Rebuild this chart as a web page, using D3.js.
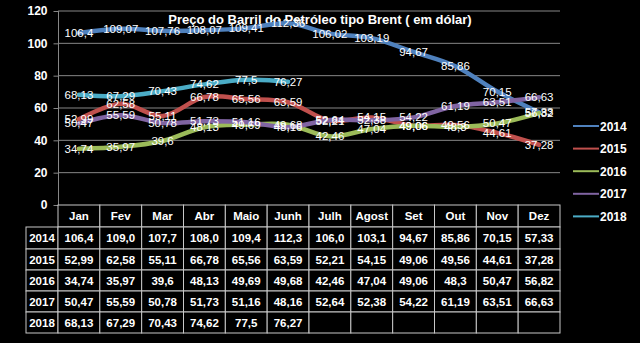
<!DOCTYPE html>
<html><head><meta charset="utf-8">
<script src="https://cdn.jsdelivr.net/npm/d3@7"></script>
<style>html,body{margin:0;padding:0;background:#000;}svg{display:block;}</style>
</head><body>
<script>
const months = ["Jan","Fev","Mar","Abr","Maio","Junh","Julh","Agost","Set","Out","Nov","Dez"];
const years = ["2014","2015","2016","2017","2018"];
const v2014 = [106.4,109.07,107.76,108.07,109.41,112.36,106.02,103.19,94.67,85.86,70.15,57.33];
const v2015 = [52.99,62.58,55.11,66.78,65.56,63.59,52.21,54.15,49.06,49.56,44.61,37.28];
const v2016 = [34.74,35.97,39.6,48.13,49.69,49.68,42.46,47.04,49.06,48.3,50.47,56.82];
const v2017 = [50.47,55.59,50.78,51.73,51.16,48.16,52.64,52.38,54.22,61.19,63.51,66.63];
const v2018 = [68.13,67.29,70.43,74.62,77.5,76.27];
const tableText2014 = ["106,4","109,0","107,7","108,0","109,4","112,3","106,0","103,1","94,67","85,86","70,15","57,33"];
const yTicks = [0,20,40,60,80,100,120];
const title = "Preço do Barril do Petróleo tipo Brent ( em dólar)";
const colors = ["#4F81BD","#C0504D","#9BBB59","#8064A2","#4BACC6"];

const series = [v2014,v2015,v2016,v2017,v2018];
const W=640,H=343;
const svg = d3.select("body").append("svg").attr("width",W).attr("height",H).style("background","#000");
const fontF = "'Liberation Sans', Arial, sans-serif";
const x = d3.scaleBand().domain(months).range([58,560]).padding(0);
const y = d3.scaleLinear().domain([0,120]).range([205,11]);
const fmt = v => String(v).replace(".",",");

// gridlines
svg.append("g").selectAll("line").data(yTicks.filter(d=>d>0)).join("line")
  .attr("x1",58).attr("x2",560).attr("y1",d=>y(d)).attr("y2",d=>y(d))
  .attr("stroke","#868686").attr("stroke-width",1);

// y axis
const ya = svg.append("g").attr("transform","translate(58.5,0)").call(d3.axisLeft(y).tickValues(yTicks).tickSize(5).tickPadding(6));
ya.select(".domain").attr("stroke","#868686").attr("d","M0,"+y(120)+"V"+y(0));
ya.selectAll(".tick line").attr("stroke","#868686");
ya.selectAll(".tick text").attr("fill","#fff").style("font-family",fontF).style("font-size","12px").style("font-weight","bold");

// title
svg.append("text").attr("x",320).attr("y",24).attr("text-anchor","middle")
  .attr("fill","#fff").style("font-family",fontF).style("font-size","13px").style("font-weight","bold").text(title);

// lines
const line = d3.line().x((d,i)=>x(months[i])+x.bandwidth()/2).y(d=>y(d)).curve(d3.curveCatmullRom.alpha(0.5));
series.forEach((s,k)=>{
  svg.append("path").attr("d",line(s)).attr("fill","none").attr("stroke",colors[k]).attr("stroke-width",4.5).attr("stroke-linecap","round").attr("stroke-linejoin","round");
});
// labels
series.forEach((s,k)=>{
  svg.append("g").selectAll("text").data(s).join("text")
    .attr("x",(d,i)=>x(months[i])+x.bandwidth()/2).attr("y",d=>y(d)+4)
    .attr("text-anchor","middle").attr("fill","#fff")
    .style("font-family",fontF).style("font-size","11.5px").text(d=>fmt(d));
});

// legend
const lg = svg.append("g");
years.forEach((yr,k)=>{
  const yy = 126 + k*22.6;
  lg.append("line").attr("x1",573).attr("x2",599).attr("y1",yy).attr("y2",yy).attr("stroke",colors[k]).attr("stroke-width",2);
  lg.append("text").attr("x",600).attr("y",yy+4.5).attr("fill","#fff").style("font-family",fontF).style("font-size","12px").style("font-weight","bold").text(yr);
});

// data table
const tb = svg.append("g");
const rowTop = [205,227,249,270,291,312,333];
const bcol = "#c8c8c8";
// header cells
months.forEach(m=>{
  tb.append("rect").attr("x",x(m)).attr("y",rowTop[0]).attr("width",x.bandwidth()).attr("height",rowTop[1]-rowTop[0]).attr("fill","#000").attr("stroke",bcol).attr("stroke-width",1);
  tb.append("text").attr("x",x(m)+x.bandwidth()/2).attr("y",(rowTop[0]+rowTop[1])/2+4).attr("text-anchor","middle").attr("fill","#fff")
    .style("font-family",fontF).style("font-size","11.5px").style("font-weight","bold").text(m);
});
years.forEach((yr,k)=>{
  const t0=rowTop[k+1], t1=rowTop[k+2];
  tb.append("rect").attr("x",26).attr("y",t0).attr("width",32).attr("height",t1-t0).attr("fill","#000").attr("stroke",bcol);
  tb.append("text").attr("x",42).attr("y",(t0+t1)/2+4).attr("text-anchor","middle").attr("fill","#fff")
    .style("font-family",fontF).style("font-size","11.5px").style("font-weight","bold").text(yr);
  months.forEach((m,i)=>{
    tb.append("rect").attr("x",x(m)).attr("y",t0).attr("width",x.bandwidth()).attr("height",t1-t0).attr("fill","#000").attr("stroke",bcol);
    const v = series[k][i];
    if(v!==undefined){
      tb.append("text").attr("x",x(m)+x.bandwidth()/2).attr("y",(t0+t1)/2+4).attr("text-anchor","middle").attr("fill","#fff")
        .style("font-family",fontF).style("font-size","11.5px").style("font-weight","bold").text(k===0?tableText2014[i]:fmt(v));
    }
  });
});
</script>
</body></html>
